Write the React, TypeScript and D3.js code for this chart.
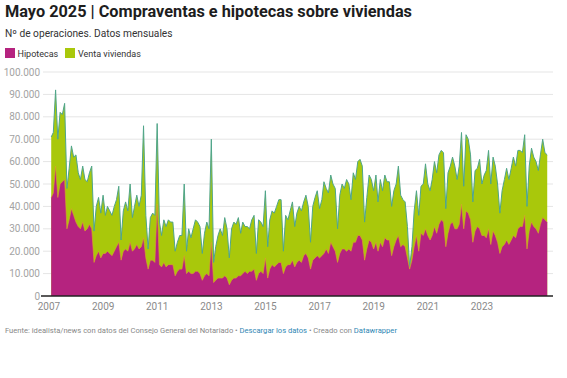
import React from "react";
import * as d3 from "d3";

// Monthly values, thousands of operations, Jan 2007 – May 2025
const ventaViviendas: number[] = [
  71,73,92,70,82,81,86,48,57,67,62,63,
  55,52,58,52,51,55,58,29,40,44,37,45,
  36,40,38,36,40,43,49,25,38,42,38,50,
  35,40,45,40,45,76,36,21,35,37,36,77,
  33,27,34,31,34,33,33,20,24,27,27,50,
  20,30,26,30,34,33,31,19,28,33,30,70,
  15,22,27,30,27,35,30,17,30,33,32,35,
  28,33,31,31,30,34,36,19,34,33,31,47,
  22,34,38,37,40,43,43,20,36,34,38,42,
  31,37,40,38,42,45,40,24,40,44,47,39,
  43,51,48,46,54,50,48,30,45,50,48,52,
  50,43,55,52,60,61,58,33,44,54,52,47,
  54,42,52,47,54,51,51,40,47,50,58,45,
  43,42,31,13,22,38,47,36,49,50,59,50,
  47,52,60,55,63,65,64,39,55,58,62,58,
  52,58,73,49,72,70,63,42,56,57,61,50,
  54,56,65,50,62,58,50,37,47,52,57,52,
  57,62,58,65,65,64,72,40,58,66,62,60,
  56,63,70,64,63,
];

const hipotecas: number[] = [
  44,46,58,44,50,51,52,30,34,39,36,33,
  31,30,33,29,30,32,30,15,18,20,17,19,
  19,20,19,18,20,22,24,16,20,21,20,24,
  20,21,23,21,22,26,17,12,16,16,15,41,
  14,13,15,13,14,14,14,9,11,12,12,18,
  10,11,10,10,11,11,10,7,9,10,9,24,
  6,7,8,8,8,9,8,5,7,8,8,9,
  9,10,11,10,11,11,12,7,10,11,10,17,
  8,12,14,13,14,15,15,10,13,14,14,16,
  13,15,16,15,18,19,17,12,16,17,18,17,
  18,19,21,19,24,22,20,15,19,21,21,20,
  21,20,24,24,27,27,25,16,21,25,24,21,
  24,20,24,22,26,25,25,18,22,25,27,22,
  23,22,17,12,16,22,27,20,28,27,30,27,
  25,27,31,28,32,34,33,22,28,32,33,30,
  30,32,41,30,38,37,34,24,29,31,30,27,
  27,26,30,23,29,27,24,19,22,23,25,23,
  25,27,26,30,31,31,36,21,29,33,31,30,
  28,32,35,34,33,
];

const yTicks = [0,10,20,30,40,50,60,70,80,90,100];
const xTickYears = [2007,2009,2011,2013,2015,2017,2019,2021,2023];

const seriesNames = ["Hipotecas", "Venta viviendas"];
const seriesColors = ["#b5237f", "#a9c80b"];

const FONT = "Roboto, 'Noto Sans', sans-serif";

export default function App() {
  const W = 567, H = 378;
  // monthly figures dated at the end of each month
  const dates = ventaViviendas.map((_, i) => new Date(2007, i + 1, 0));
  const x = d3.scaleTime()
    .domain([new Date(2007, 0, 1), new Date(2025, 4, 1)])
    .range([49, 545]);
  const y = d3.scaleLinear().domain([0, 100]).range([296, 72]);

  const areaV = d3.area<number>()
    .x((_, i) => x(dates[i]))
    .y0(y(0))
    .y1((d) => y(d));
  const lineV = d3.line<number>()
    .x((_, i) => x(dates[i]))
    .y((d) => y(d));

  const fmt = (v: number) => d3.format(",")(v * 1000).replace(/,/g, ".");

  return (
    <svg width={W} height={H} style={{ position: "absolute", left: 0, top: 0, background: "#fff" }}
      fontFamily={FONT}>
      <rect x={0} y={0} width={W} height={H} fill="#fff" />
      <text x={5} y={17} fontSize={16.3} fontWeight={700} fill="#1d1d1d">
        Mayo 2025 | Compraventas e hipotecas sobre viviendas
      </text>
      <text x={5} y={37} fontSize={10.2} fill="#333">Nº de operaciones. Datos mensuales</text>

      {/* legend */}
      <g fontSize={9} fill="#333">
        <rect x={5} y={48} width={10} height={10} fill={seriesColors[0]} />
        <text x={17.5} y={56.5}>{seriesNames[0]}</text>
        <rect x={65} y={48} width={10} height={10} fill={seriesColors[1]} />
        <text x={78} y={56.5}>{seriesNames[1]}</text>
      </g>

      {/* grid */}
      <g>
        {yTicks.map((t) => (
          <g key={t}>
            {t !== 0 && (
              <line x1={43} x2={553} y1={y(t)} y2={y(t)} stroke="#e5e5e5" strokeWidth={1} />
            )}
            <text x={40} y={y(t) + 3.5} textAnchor="end" fontSize={10} fill="#a3a3a3">
              {fmt(t)}
            </text>
          </g>
        ))}
      </g>

      {/* areas */}
      <path d={areaV(ventaViviendas) || ""} fill={seriesColors[1]} />
      <path d={lineV(ventaViviendas) || ""} fill="none" stroke="#4fa58a" strokeWidth={1} strokeLinejoin="round" />
      <path d={areaV(hipotecas) || ""} fill={seriesColors[0]} />
      <path d={lineV(hipotecas) || ""} fill="none" stroke="#d9a62a" strokeWidth={0.8} strokeOpacity={0.8} strokeLinejoin="round" />

      {/* baseline */}
      <line x1={41} x2={553} y1={y(0)} y2={y(0)} stroke="#222" strokeWidth={1.5} />

      {/* x labels */}
      <g fontSize={10} fill="#8a8a8a" textAnchor="middle">
        {xTickYears.map((yr) => (
          <text key={yr} x={x(new Date(yr, 0, 1))} y={310}>{yr}</text>
        ))}
      </g>

      {/* footer */}
      <text x={5} y={333} fontSize={7.6} fill="#888">
        Fuente: idealista/news con datos del Consejo General del Notariado •{" "}
        <tspan fill="#2f87b4">Descargar los datos</tspan>
        <tspan> • Creado con </tspan>
        <tspan fill="#2f87b4">Datawrapper</tspan>
      </text>
    </svg>
  );
}
